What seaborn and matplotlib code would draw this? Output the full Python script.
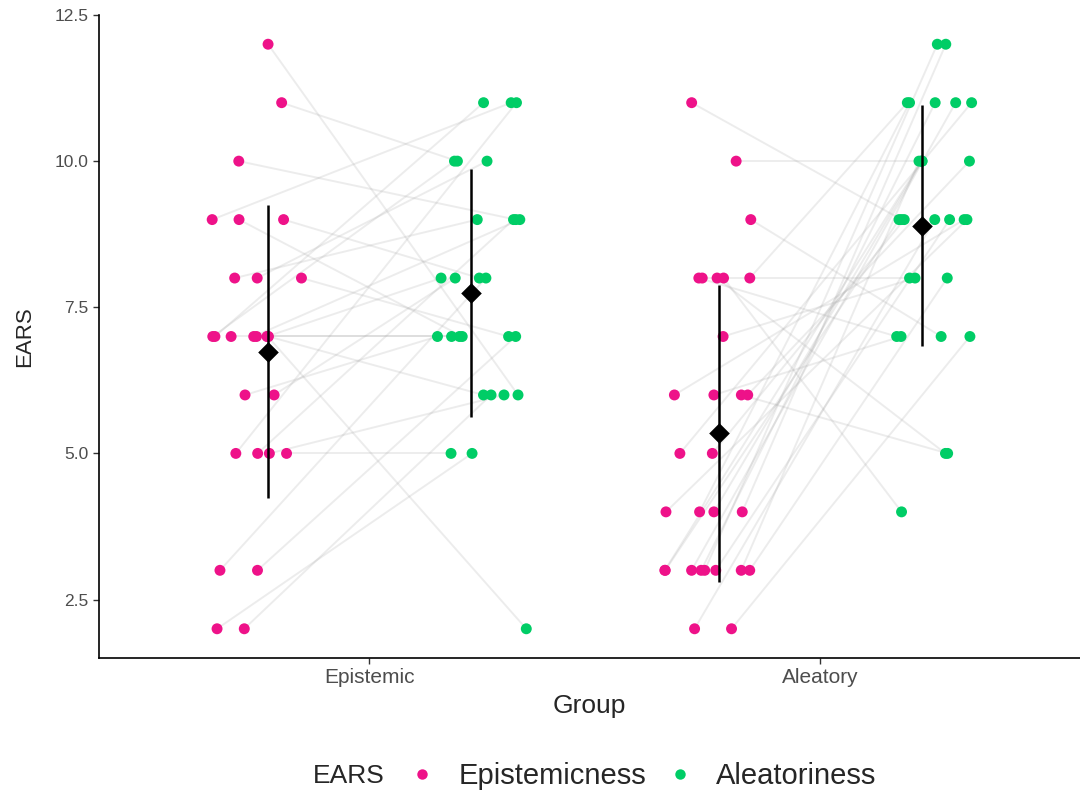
import numpy as np
import pandas as pd
import matplotlib
matplotlib.use("Agg")
import matplotlib.pyplot as plt
from matplotlib.lines import Line2D
import seaborn as sns

# ---------------- data ----------------
groups = ["Epistemic", "Aleatory"]
measures = ["Epistemicness", "Aleatoriness"]
colors = {"Epistemicness": "#EE1289", "Aleatoriness": "#00CD66"}

# Epistemic group: one entry per subject (paired)
epi_epistemicness = [12, 11, 10, 9, 9, 9, 8, 8, 8, 7, 7, 7, 7, 7, 7, 7, 7,
                     6, 6, 5, 5, 5, 5, 3, 3, 2, 2]
epi_aleatoriness = [6, 10, 9, 11, 8, 7, 9, 10, 7, 2, 7, 8, 11, 9, 6, 7, 10,
                    8, 7, 5, 11, 9, 6, 8, 7, 6, 5]

# Aleatory group
ale_epistemicness = [11, 10, 9, 8, 8, 8, 8, 8, 7, 6, 6, 6, 6, 5, 5, 4, 4, 4, 4,
                     3, 3, 3, 3, 3, 3, 3, 3, 2, 2]
ale_aleatoriness = [9, 10, 7, 5, 4, 8, 7, 11, 8, 5, 9, 10, 7, 11, 9, 12, 10, 11, 9,
                    12, 11, 10, 9, 8, 11, 10, 9, 9, 7]

yticks = [2.5, 5.0, 7.5, 10.0, 12.5]
ytick_labels = ["2.5", "5.0", "7.5", "10.0", "12.5"]

# ---------------- build long table ----------------
rows = []
sid = 0
for g, (e_vals, a_vals) in enumerate([(epi_epistemicness, epi_aleatoriness),
                                      (ale_epistemicness, ale_aleatoriness)]):
    for e, a in zip(e_vals, a_vals):
        rows.append((sid, groups[g], g, "Epistemicness", e))
        rows.append((sid, groups[g], g, "Aleatoriness", a))
        sid += 1
df = pd.DataFrame(rows, columns=["subject", "group", "gidx", "measure", "value"])

rng = np.random.default_rng(7)
point_dodge = {"Epistemicness": -0.25, "Aleatoriness": 0.25}
mean_dodge = {"Epistemicness": -0.225, "Aleatoriness": 0.225}
df["x"] = df["gidx"] + df["measure"].map(point_dodge) + rng.uniform(-0.1, 0.1, len(df))

# ---------------- plot ----------------
sns.set_style("white")
plt.rcParams["font.family"] = ["Liberation Sans", "DejaVu Sans"]

fig = plt.figure(figsize=(10.8, 7.94), dpi=100)
ax = fig.add_axes([99 / 1080, 1 - 658 / 794, 1 - 99 / 1080, (658 - 15) / 794])

sns.lineplot(data=df, x="x", y="value", units="subject", estimator=None,
             color="#9A9A9A", alpha=0.18, linewidth=1.4, sort=False, ax=ax,
             legend=False, zorder=1)
sns.scatterplot(data=df, x="x", y="value", hue="measure", palette=colors,
                hue_order=measures, s=62, linewidth=0, ax=ax, legend=False,
                zorder=2)

stats = df.groupby(["gidx", "measure"])["value"].agg(["mean", "std"]).reset_index()
stats["xm"] = stats["gidx"] + stats["measure"].map(mean_dodge)
ax.vlines(stats["xm"], stats["mean"] - stats["std"], stats["mean"] + stats["std"],
          color="black", linewidth=1.8, zorder=3)
ax.scatter(stats["xm"], stats["mean"], marker="D", s=110, color="black",
           linewidth=0, zorder=4)

ax.set_xlim(-0.6, 1.576)
ax.set_ylim(1.5, 12.5)
ax.set_xticks([0, 1])
ax.set_xticklabels(groups)
ax.set_yticks(yticks)
ax.set_yticklabels(ytick_labels)
ax.tick_params(axis="both", labelsize=12.5, labelcolor="#4D4D4D", length=4,
               width=1.0, color="#333333", direction="out", left=True, bottom=True)
ax.tick_params(axis="x", labelsize=15)
ax.set_xlabel("Group", fontsize=19, labelpad=5)
ax.set_ylabel("EARS", fontsize=16, labelpad=14)
for s in ["top", "right"]:
    ax.spines[s].set_visible(False)
for s in ["left", "bottom"]:
    ax.spines[s].set_color("black")
    ax.spines[s].set_linewidth(1.2)

handles = [Line2D([], [], marker="o", linestyle="none", markersize=7.5,
                  markerfacecolor=colors[m], markeredgewidth=0) for m in measures]
fig.legend(handles, measures, loc="center", bbox_to_anchor=(0.593, 1 - 776 / 794),
           ncol=2, frameon=False, fontsize=21, handletextpad=0.63,
           columnspacing=0.55, handlelength=1.2)
fig.text(313 / 1080, 1 - 776 / 794, "EARS", fontsize=19, va="center", ha="left")

fig.savefig("out.png", dpi=100)
